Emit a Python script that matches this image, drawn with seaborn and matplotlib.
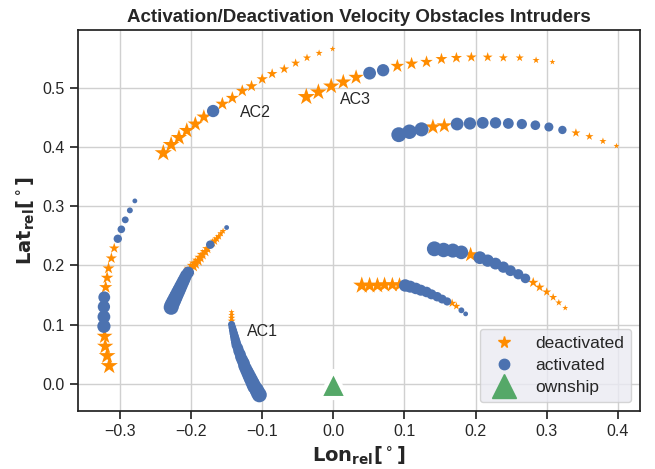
import numpy as np
import pandas as pd
import seaborn as sns
import matplotlib.pyplot as plt
from matplotlib.lines import Line2D

# trajectories, ordered from first (small marker) to last (large marker)
# state: d = deactivated, a = activated
ac1_lon = [-0.143, -0.143, -0.143, -0.143, -0.143, -0.142, -0.141, -0.140, -0.139, -0.138,
           -0.137, -0.136, -0.134, -0.133, -0.131, -0.130, -0.128, -0.126, -0.125, -0.123,
           -0.121, -0.119, -0.117, -0.115, -0.113, -0.111, -0.108, -0.106, -0.104]
ac1_lat = [0.121, 0.116, 0.111, 0.106, 0.100, 0.095, 0.090, 0.085, 0.080, 0.075,
           0.070, 0.065, 0.060, 0.055, 0.050, 0.045, 0.040, 0.035, 0.030, 0.025,
           0.020, 0.015, 0.010, 0.005, 0.000, -0.005, -0.010, -0.015, -0.019]
ac1_state = "dddd" + "a" * 25

ac2_lon = [-0.001, -0.020, -0.037, -0.053, -0.069, -0.086, -0.100, -0.115, -0.128,
           -0.142, -0.156, -0.169, -0.182, -0.194, -0.206, -0.217, -0.228, -0.239]
ac2_lat = [0.566, 0.559, 0.551, 0.542, 0.532, 0.524, 0.515, 0.503, 0.495,
           0.483, 0.473, 0.461, 0.451, 0.439, 0.428, 0.416, 0.404, 0.390]
ac2_state = "ddddddddddd" + "a" + "dddddd"

ac3_lon = [0.308, 0.285, 0.262, 0.239, 0.217, 0.194, 0.173, 0.152, 0.131,
           0.110, 0.090, 0.070, 0.051, 0.032, 0.014, -0.003, -0.021, -0.038]
ac3_lat = [0.544, 0.547, 0.551, 0.551, 0.552, 0.552, 0.551, 0.549, 0.544,
           0.541, 0.537, 0.530, 0.525, 0.518, 0.510, 0.503, 0.493, 0.485]
ac3_state = "ddddddddddd" + "aa" + "ddddd"

ac4_lon = [0.398, 0.379, 0.360, 0.341, 0.322, 0.303, 0.284, 0.265, 0.246,
           0.228, 0.210, 0.192, 0.174, 0.156, 0.140, 0.124, 0.107, 0.092]
ac4_lat = [0.402, 0.410, 0.418, 0.424, 0.429, 0.434, 0.437, 0.439, 0.440,
           0.441, 0.441, 0.440, 0.439, 0.436, 0.434, 0.430, 0.426, 0.421]
ac4_state = "dddd" + "aaaaaaaaa" + "dd" + "aaa"

ac5_lon = [-0.150, -0.155, -0.158, -0.161, -0.164, -0.167, -0.170, -0.173, -0.177, -0.180,
           -0.184, -0.187, -0.190, -0.194, -0.197, -0.201, -0.204, -0.207, -0.209, -0.211,
           -0.213, -0.215, -0.217, -0.219, -0.221, -0.223, -0.225, -0.227, -0.228]
ac5_lat = [0.264, 0.258, 0.254, 0.249, 0.245, 0.241, 0.238, 0.235, 0.228, 0.223,
           0.218, 0.213, 0.208, 0.203, 0.199, 0.194, 0.188, 0.183, 0.178, 0.173,
           0.168, 0.163, 0.158, 0.153, 0.148, 0.143, 0.138, 0.133, 0.129]
ac5_state = "a" + "dddddd" + "a" + "dddddddd" + "a" * 13

ac6_lon = [0.186, 0.180, 0.173, 0.167, 0.160, 0.153, 0.146, 0.138, 0.131, 0.123,
           0.116, 0.108, 0.101, 0.093, 0.083, 0.072, 0.062, 0.051, 0.040]
ac6_lat = [0.118, 0.124, 0.131, 0.136, 0.139, 0.143, 0.147, 0.151, 0.155, 0.158,
           0.161, 0.164, 0.166, 0.167, 0.167, 0.167, 0.166, 0.166, 0.166]
ac6_state = "aadd" + "aaaaaaaaa" + "dddddd"

ac7_lon = [0.326, 0.317, 0.309, 0.300, 0.290, 0.281, 0.270, 0.260, 0.249,
           0.239, 0.228, 0.217, 0.206, 0.193, 0.180, 0.168, 0.155, 0.142]
ac7_lat = [0.128, 0.137, 0.146, 0.155, 0.163, 0.171, 0.178, 0.185, 0.191,
           0.197, 0.203, 0.208, 0.213, 0.218, 0.222, 0.225, 0.226, 0.228]
ac7_state = "dddddd" + "aaaaaaa" + "d" + "aaaa"

ac8_lon = [-0.279, -0.286, -0.2925, -0.298, -0.303, -0.308, -0.312, -0.316, -0.318,
           -0.320, -0.322, -0.3225, -0.3225, -0.3225, -0.3215, -0.3207, -0.318, -0.315]
ac8_lat = [0.309, 0.293, 0.277, 0.261, 0.245, 0.229, 0.212, 0.195, 0.179,
           0.163, 0.146, 0.130, 0.113, 0.097, 0.080, 0.063, 0.047, 0.030]
ac8_state = "aaaaa" + "ddddd" + "aaaa" + "dddd"

labels = ["AC1", "AC2", "AC3"]
label_lon = [-0.121, -0.131, 0.010]
label_lat = [0.088, 0.459, 0.480]

ownship_lon = [0.0]
ownship_lat = [0.0]

tracks = [(ac1_lon, ac1_lat, ac1_state), (ac2_lon, ac2_lat, ac2_state),
          (ac3_lon, ac3_lat, ac3_state), (ac4_lon, ac4_lat, ac4_state),
          (ac5_lon, ac5_lat, ac5_state), (ac6_lon, ac6_lat, ac6_state),
          (ac7_lon, ac7_lat, ac7_state), (ac8_lon, ac8_lat, ac8_state)]

frames = []
for i, (lo, la, st) in enumerate(tracks):
    n = len(lo)
    frames.append(pd.DataFrame({
        "lon": lo, "lat": la,
        "state": ["deactivated" if c == "d" else "activated" for c in st],
        "step": np.arange(n) / (n - 1),
        "track": i}))
df = pd.concat(frames, ignore_index=True)

sns.set_theme(style="ticks", rc={"axes.grid": True, "grid.color": "#d0d0d0",
                                 "axes.edgecolor": "#222222"})
plt.rcParams["font.family"] = ["Liberation Sans", "DejaVu Sans"]

fig, ax = plt.subplots(figsize=(6.55, 4.69), dpi=100)
fig.subplots_adjust(left=0.119, right=0.977, top=0.936, bottom=0.124)

orange = "#FF8C00"
blue = "#4C72B0"
green = "#55A868"

sns.scatterplot(data=df[df.state == "deactivated"], x="lon", y="lat", size="step",
                sizes=(20, 170), size_norm=(0, 1), marker="*", color=orange,
                linewidth=0, legend=False, ax=ax)
sns.scatterplot(data=df[df.state == "activated"], x="lon", y="lat", size="step",
                sizes=(12, 115), size_norm=(0, 1), marker="o", color=blue,
                linewidth=0, legend=False, ax=ax)
ax.scatter(ownship_lon, ownship_lat, s=380, marker="^", color=green,
           edgecolor="white", linewidth=3, zorder=3)

for t, x, y in zip(labels, label_lon, label_lat):
    ax.text(x, y, t, fontsize=11.5, va="center", ha="left", color="#262626")

ax.set_xlim(-0.359, 0.431)
ax.set_ylim(-0.046, 0.598)
ax.set_xticks([-0.3, -0.2, -0.1, 0.0, 0.1, 0.2, 0.3, 0.4])
ax.set_yticks([0.0, 0.1, 0.2, 0.3, 0.4, 0.5])
ax.tick_params(labelsize=11.5)
for s in ax.spines.values():
    s.set_visible(True)

ax.set_title("Activation/Deactivation Velocity Obstacles Intruders",
             fontsize=13.5, fontweight="bold")
ax.set_xlabel(r"$\mathbf{Lon_{rel}[^\circ]}$", fontsize=14)
ax.set_ylabel(r"$\mathbf{Lat_{rel}[^\circ]}$", fontsize=14)

handles = [Line2D([], [], marker="*", ls="", color=orange, markersize=8.5),
           Line2D([], [], marker="o", ls="", color=blue, markersize=7.5),
           Line2D([], [], marker="^", ls="", color=green, markersize=17)]
leg = ax.legend(handles, ["deactivated", "activated", "ownship"], loc="lower right",
                fontsize=12.5, frameon=True, facecolor="#EAEAF2", edgecolor="#cccccc",
                handletextpad=0.8, borderpad=0.4, labelspacing=0.4)

plt.savefig("out.png", dpi=100)
